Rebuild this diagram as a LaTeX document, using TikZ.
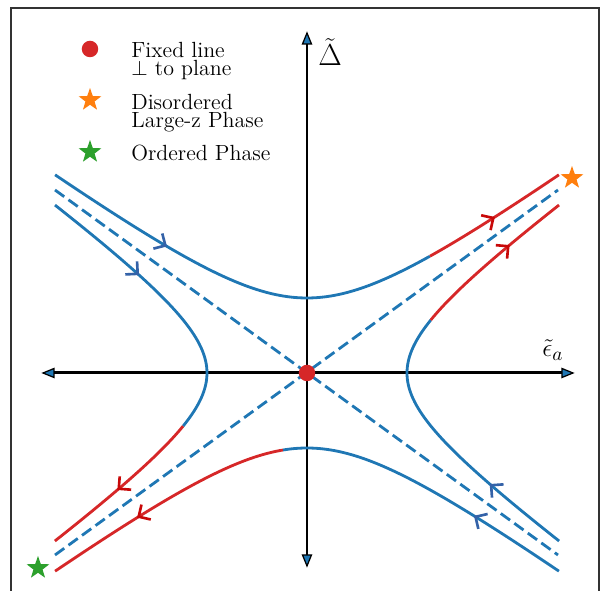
\documentclass[tikz,border=0pt]{standalone}
\usepackage{amsmath}
\usetikzlibrary{arrows.meta,shapes.geometric}
\definecolor{tabblue}{RGB}{31,119,180}
\definecolor{tabred}{RGB}{214,39,40}
\definecolor{taborange}{RGB}{255,127,14}
\definecolor{tabgreen}{RGB}{44,160,44}
\definecolor{barbblue}{RGB}{52,98,168}
\definecolor{barbred}{RGB}{200,8,8}
\begin{document}
\begin{tikzpicture}[x=0.02cm, y=0.02cm,
				flow/.style={tabblue, line width=1.6pt},
				runaway/.style={tabred, line width=1.6pt},
				asym/.style={tabblue, line width=1.6pt, dash pattern=on 6.5pt off 3pt},
				barb/.style={line width=1.5pt, -{Straight Barb[length=5pt, width=10pt]}},
				axhead/.style={fill=tabblue, draw=black, line width=0.7pt},
				fixdot/.style={circle, fill=tabred, inner sep=0pt, minimum size=0.33cm},
				phase/.style={star, star points=5, star point ratio=2.5, inner sep=0pt, minimum size=0.48cm},
				legtext/.style={anchor=north west, align=left, inner sep=0pt, font=\fontsize{12.5}{10}\selectfont}]
				
				% --- 1. frame ---
				\useasboundingbox (-307,-218) rectangle (293,373);
				\draw[black!80, line width=0.6pt] (-296,-218) -- (-296,365) -- (292,365) -- (292,-218);
				
				% --- 2. axes (black shafts, blue heads) ---
				\coordinate (O) at (0,0);
				\coordinate (Ytop) at (0,340);
				\coordinate (Ybot) at (0,-193);
				\coordinate (Xlft) at (-264,0);
				\coordinate (Xrgt) at (266,0);
				\draw[black, line width=1.7pt] (0,331) -- (0,-184);
				\draw[black, line width=1.7pt] (-255,0) -- (257,0);
				\filldraw[axhead] (Ytop) -- ++(-4.5,-11) -- ++(9,0) -- cycle;
				\filldraw[axhead] (Ybot) -- ++(-4.5,11) -- ++(9,0) -- cycle;
				\filldraw[axhead] (Xlft) -- ++(11,-4.5) -- ++(0,9) -- cycle;
				\filldraw[axhead] (Xrgt) -- ++(-11,-4.5) -- ++(0,9) -- cycle;
				\node[anchor=base west, inner sep=0pt, font=\fontsize{19}{22}\selectfont] (dlab) at (11,307) {$\tilde{\Delta}$};
				\node[anchor=base west, inner sep=0pt, font=\fontsize{15}{18}\selectfont] (elab) at (235,16) {$\tilde{\epsilon}_a$};
				
				% --- 3. asymptotes ---
				\coordinate (UL) at (-252,183);
				\coordinate (LR) at (251,-182);
				\coordinate (LL) at (-252,-182);
				\coordinate (UR) at (251,183);
				\draw[asym] (UL) -- (LR);
				\draw[asym] (LL) -- (UR);
				
				% --- 4. hyperbola branches ---
				% top branch, runs off to the right
				\draw[flow] plot[domain=-1.627:1.012, samples=60, smooth] ({103*sinh(\x)}, {75*cosh(\x)});
				\draw[runaway] plot[domain=1.012:1.627, samples=20, smooth] ({103*sinh(\x)}, {75*cosh(\x)});
				% bottom branch, runs off to the left
				\draw[runaway] plot[domain=-1.627:-0.231, samples=40, smooth] ({103*sinh(\x)}, {-75*cosh(\x)});
				\draw[flow] plot[domain=-0.231:1.627, samples=50, smooth] ({103*sinh(\x)}, {-75*cosh(\x)});
				% right branch
				\draw[flow] plot[domain=-1.576:0.677, samples=60, smooth] ({100*cosh(\x)}, {72.6*sinh(\x)});
				\draw[runaway] plot[domain=0.677:1.576, samples=25, smooth] ({100*cosh(\x)}, {72.6*sinh(\x)});
				% left branch
				\draw[runaway] plot[domain=-1.576:-0.677, samples=25, smooth] ({-100*cosh(\x)}, {72.6*sinh(\x)});
				\draw[flow] plot[domain=-0.677:1.576, samples=60, smooth] ({-100*cosh(\x)}, {72.6*sinh(\x)});
				
				% --- 5. flow direction ---
				\draw[barb, barbblue] plot[samples at={-1.124,-1.114}] ({103*sinh(\x)}, {75*cosh(\x)});
				\draw[barb, barbblue] plot[samples at={1.118,1.108}] ({-100*cosh(\x)}, {72.6*sinh(\x)});
				\draw[barb, barbblue] plot[samples at={-1.221,-1.211}] ({100*cosh(\x)}, {72.6*sinh(\x)});
				\draw[barb, barbblue] plot[samples at={1.27,1.26}] ({103*sinh(\x)}, {-75*cosh(\x)});
				\draw[barb, barbred] plot[samples at={1.352,1.362}] ({103*sinh(\x)}, {75*cosh(\x)});
				\draw[barb, barbred] plot[samples at={1.322,1.332}] ({100*cosh(\x)}, {72.6*sinh(\x)});
				\draw[barb, barbred] plot[samples at={-1.245,-1.255}] ({-100*cosh(\x)}, {72.6*sinh(\x)});
				\draw[barb, barbred] plot[samples at={-1.265,-1.275}] ({103*sinh(\x)}, {-75*cosh(\x)});
				
				% --- 6. fixed points ---
				\node[fixdot] (fix) at (O) {};
				\node[phase, fill=taborange] (dis) at (265,195) {};
				\node[phase, fill=tabgreen] (ord) at (-269,-195) {};
				
				% --- 7. legend ---
				\node[fixdot] (kfix) at (-217,324) {};
				\node[phase, fill=taborange] (kdis) at (-217,273) {};
				\node[phase, fill=tabgreen] (kord) at (-217,221) {};
				\node[legtext] (tfix) at (-176,331) {Fixed line\\$\perp$ to plane};
				\node[legtext] (tdis) at (-176,279) {Disordered\\Large-z Phase};
				\node[legtext] (tord) at (-176,228) {Ordered Phase};
				
			\end{tikzpicture}
\end{document}
